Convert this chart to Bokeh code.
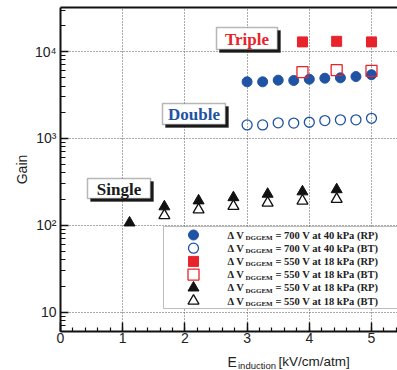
import math
from bokeh.plotting import figure
from bokeh.layouts import column
from bokeh.models import (Range1d, LinearAxis, LinearScale, FixedTicker, SingleIntervalTicker,
                          Label, BoxAnnotation, CustomJSTickFormatter)
from bokeh.embed import file_html
from bokeh.resources import INLINE

# ---------------- data ----------------
double_x = [3.0, 3.25, 3.5, 3.75, 4.0, 4.25, 4.5, 4.75, 5.0]
double_rp = [4480, 4480, 4680, 4640, 4800, 4930, 4980, 5150, 5400]
double_bt = [1430, 1430, 1510, 1500, 1535, 1605, 1635, 1635, 1705]

triple_x = [3.89, 4.44, 5.0]
triple_rp = [12900, 13100, 12900]
triple_bt = [5800, 6100, 6000]

single_rp_x = [1.11, 1.67, 2.22, 2.78, 3.33, 3.89, 4.44]
single_rp = [107, 164, 192, 209, 229, 244, 258]
single_bt_x = [1.67, 2.22, 2.78, 3.33, 3.89, 4.44]
single_bt = [130, 151, 166, 181, 191, 200]

legend_rest = ["= 700 V at 40 kPa (RP)", "= 700 V at 40 kPa (BT)",
               "= 550 V at 18 kPa (RP)", "= 550 V at 18 kPa (BT)",
               "= 550 V at 18 kPa (RP)", "= 550 V at 18 kPa (BT)"]
y_major = [10, 100, 1000, 10000]
x_major_interval = 1

RED = "#e8232b"
BLUE = "#1f53a3"
BLACK = "#111111"
SANS = "Liberation Sans"
SERIF = "Liberation Serif"

W, H = 397, 348
FL, FT, FB = 60, 7, 331          # frame left / top / bottom (page px)
FW, FH = W - FL, FB - FT

p = figure(width=W, height=H, y_axis_type="log", title=None,
           x_range=Range1d(0, 5.418), y_range=Range1d(6.0, 32100),
           output_backend="svg", toolbar_location=None,
           min_border_left=FL, min_border_right=0, min_border_top=FT,
           min_border_bottom=H - FB)
p.outline_line_color = None
p.background_fill_color = "white"
p.border_fill_color = "white"
# pixel-like helper ranges for legend swatches
p.extra_x_ranges = {"px": Range1d(0, FW)}
p.extra_y_ranges = {"py": Range1d(0, FH)}
p.extra_y_scales = {"py": LinearScale()}

# axes
xt = SingleIntervalTicker(interval=x_major_interval, num_minor_ticks=5)
p.xaxis.ticker = xt
p.xgrid.ticker = xt
minor = [m * 10 ** e for e in range(0, 5) for m in range(2, 10)]
yt = FixedTicker(ticks=y_major, minor_ticks=minor)
p.yaxis.ticker = yt
p.ygrid.ticker = yt
p.yaxis.formatter = CustomJSTickFormatter(code="""
const e = Math.round(Math.log10(tick));
const sup = {1: "", 2: "\u00b2", 3: "\u00b3", 4: "\u2074"};
return "10" + sup[e];
""")

for ax in (p.xaxis[0], p.yaxis[0]):
    ax.axis_line_width = 2
    ax.axis_line_color = BLACK
    ax.major_tick_out = 0
    ax.minor_tick_out = 0
    ax.major_tick_line_width = 1.5
    ax.minor_tick_line_width = 1.2
    ax.major_tick_line_color = BLACK
    ax.minor_tick_line_color = BLACK
    ax.major_label_text_font = SANS
    ax.major_label_text_font_size = "14px"
    ax.major_label_text_color = "#222222"
p.xaxis.major_tick_in = 9
p.xaxis.minor_tick_in = 4
p.xaxis.major_label_standoff = 1
p.yaxis.major_tick_in = 8
p.yaxis.minor_tick_in = 5
p.yaxis.major_label_standoff = 4
p.yaxis.axis_label = "Gain"
p.yaxis.axis_label_text_font = SANS
p.yaxis.axis_label_text_font_style = "normal"
p.yaxis.axis_label_text_font_size = "14px"
p.yaxis.axis_label_text_color = "#222222"
p.yaxis.axis_label_standoff = 2

top = LinearAxis(ticker=FixedTicker(ticks=[]), major_tick_out=0, minor_tick_out=0,
                 major_label_text_font_size="0px", major_label_standoff=0,
                 axis_line_width=2, axis_line_color=BLACK)
p.add_layout(top, "above")

for g in (p.xgrid[0], p.ygrid[0]):
    g.grid_line_color = "#555555"
    g.grid_line_dash = "1 2"
    g.grid_line_width = 1

# legend box (under the glyphs, over the grid)
p.add_layout(BoxAnnotation(left=163 - FL, right=FW + 5, top=FB - 226, bottom=FB - 308,
                           left_units="screen", right_units="screen",
                           top_units="screen", bottom_units="screen",
                           fill_color="white", fill_alpha=1, line_color="#222222",
                           line_width=1, level="underlay"))

# data renderers
styles = [
    dict(marker="circle", size=10, fill_color=BLUE, line_color=BLUE),
    dict(marker="circle", size=10, fill_color=None, line_color=BLUE, line_width=1.3),
    dict(marker="square", size=10, fill_color=RED, line_color=RED),
    dict(marker="square", size=11, fill_color=None, line_color=RED, line_width=1.3),
    dict(marker="triangle", size=11, fill_color=BLACK, line_color=BLACK),
    dict(marker="triangle", size=11, fill_color="white", line_color=BLACK, line_width=1.3),
]
series = [(double_x, double_rp), (double_x, double_bt), (triple_x, triple_rp),
          (triple_x, triple_bt), (single_rp_x, single_rp), (single_bt_x, single_bt)]
for (xs, ys), st in zip(series, styles):
    p.scatter(xs, ys, **st)

# legend swatches + texts
row_y = [234.5 + 13.2 * i for i in range(6)]


def lab(fig, text, sx, sy, size, color="#222222", font=SERIF, style="bold",
        align="left", baseline="middle"):
    fig.add_layout(Label(x=sx, y=sy, x_units="screen", y_units="screen",
                         text=text, text_font=font, text_font_size=size,
                         text_font_style=style, text_color=color, text_align=align,
                         text_baseline=baseline))


for st, yc, rest in zip(styles, row_y, legend_rest):
    p.scatter([193 - FL], [FB - yc], x_range_name="px", y_range_name="py", **st)
    lab(p, "\u0394 V", 227 - FL, FB - yc, "10.5px")
    lab(p, "DGGEM", 245 - FL, FB - yc - 3, "7px")
    lab(p, rest, 275 - FL, FB - yc, "10.5px")


def tag(text, color, l, r, t, b, cx, cy):
    p.add_layout(BoxAnnotation(left=l - FL + 3, right=r - FL + 3, top=FB - t - 3, bottom=FB - b - 3,
                               left_units="screen", right_units="screen",
                               top_units="screen", bottom_units="screen",
                               fill_color="#1a1a1a", fill_alpha=1, line_color="#1a1a1a",
                               line_width=1))
    p.add_layout(BoxAnnotation(left=l - FL, right=r - FL, top=FB - t, bottom=FB - b,
                               left_units="screen", right_units="screen",
                               top_units="screen", bottom_units="screen",
                               fill_color="white", fill_alpha=1, line_color="#111111",
                               line_width=1.5))
    lab(p, text, cx - FL, FB - cy, "17px", color=color, align="center")


tag("Triple", RED, 216, 277, 27, 49, 246.5, 38.5)
tag("Double", BLUE, 162, 225, 103, 124, 193.5, 114)
tag("Single", "#1a1a1a", 87, 150, 178, 198, 118.5, 188.5)

# x-axis title strip (subscript needs separate texts)
TH = 370 - H
t = figure(width=W, height=TH, x_range=Range1d(0, W), y_range=Range1d(0, TH), title=None,
           x_axis_location=None, y_axis_location=None,
           output_backend="svg", toolbar_location=None, min_border=0)
t.grid.visible = False
t.outline_line_color = None
t.background_fill_color = "white"
t.border_fill_color = "white"
lab(t, "E", 167, 370 - 361, "14px", font=SANS, style="normal", baseline="alphabetic")
lab(t, "induction", 177.5, 370 - 365, "9.5px", font=SANS, style="normal", baseline="alphabetic")
lab(t, "[kV/cm/atm]", 218, 370 - 361, "13.5px", font=SANS, style="normal", baseline="alphabetic")

layout = column(p, t, spacing=0)
open("out.html", "w").write(file_html(layout, INLINE))
